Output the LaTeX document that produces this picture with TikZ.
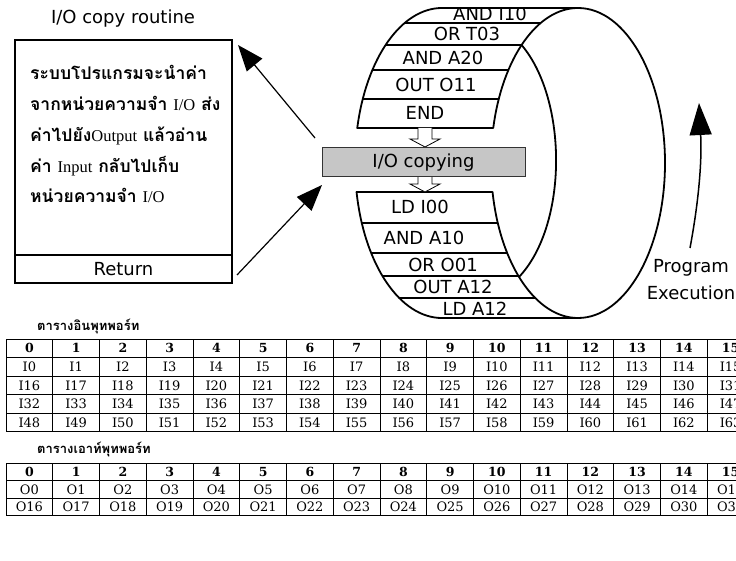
\documentclass[tikz,border=0pt]{standalone}
\usepackage{fontspec}
\setmainfont{DejaVu Sans}
\newfontfamily\thaifont[Script=Thai]{Loma}
\newfontfamily\latinserif{Liberation Serif}
\newfontfamily\tabfont{DejaVu Serif}
\usetikzlibrary{arrows.meta}

% Latin words set inside the Thai description
\newcommand\lat[1]{{\latinserif\mdseries\fontsize{16.5}{16.5}\selectfont #1}}

% the two visible pieces of the drum surface (between the left and right end ellipses)
\newcommand\upperband{(442,8) arc[start angle=270,end angle=193.05,x radius=87,y radius=155] -- (493.25,128) arc[start angle=193.05,end angle=270,x radius=87,y radius=155] -- cycle}
\newcommand\lowerband{(356.54,192) arc[start angle=169.22,end angle=90,x radius=87,y radius=155] -- (578,318) arc[start angle=90,end angle=169.22,x radius=87,y radius=155] -- cycle}

\begin{document}
\begin{tikzpicture}[x=1pt,y=-1pt,
  outline/.style={line width=1.8pt, line join=round},
  rowline/.style={line width=1.1pt},
  instr/.style={font=\fontsize{18}{18}\selectfont, inner sep=0pt, text height=13pt, text depth=0pt},
  plaintext/.style={font=\fontsize{18}{18}\selectfont, inner sep=0pt, text height=13pt, text depth=0pt},
  thai/.style={font=\thaifont\bfseries\fontsize{17.5}{17.5}\selectfont, inner sep=0pt, anchor=base west},
  pointer/.style={line width=1.2pt, -{Triangle[length=26pt,width=20pt]}},
  hollow/.style={line width=0.8pt, fill=white, line join=miter},
  tabline/.style={line width=1pt},
  hcell/.style={font=\tabfont\bfseries\fontsize{12.5}{12.5}\selectfont, inner sep=0pt, text height=9pt, text depth=0pt},
  cell/.style={font=\tabfont\fontsize{13}{13}\selectfont, inner sep=0pt, text height=9.5pt, text depth=0pt},
  tabtitle/.style={font=\thaifont\bfseries\fontsize{13}{13}\selectfont, inner sep=0pt, anchor=west},
]
\clip (0,0) rectangle (736,561);
\fill[white] (0,0) rectangle (736,561);

% ---------------- drum ----------------
% right end ellipse: outer arc and the inner edge
\draw[outline] (578,8) arc[start angle=270,end angle=450,x radius=87,y radius=155];
\draw[outline] (521.6,45) .. controls (568,100) and (568,225) .. (519,277);

% upper piece of the drum surface
\fill[white] \upperband;
\begin{scope}
  \clip \upperband;
  \foreach \yy in {23,45,70,99} \draw[rowline] (300,\yy) -- (620,\yy);
  \node[instr] (ins1) at (490,14.5) {AND I10};
  \node[instr] (ins2) at (467,34) {OR T03};
  \node[instr] (ins3) at (443,58) {AND A20};
  \node[instr] (ins4) at (436,85) {OUT O11};
  \node[instr] (ins5) at (425,113.5) {END};
\end{scope}
\draw[outline] \upperband;

% lower piece of the drum surface
\fill[white] \lowerband;
\begin{scope}
  \clip \lowerband;
  \foreach \yy in {223,253,276,298} \draw[rowline] (300,\yy) -- (620,\yy);
  \node[instr] (ins6) at (420,207.5) {LD I00};
  \node[instr] (ins7) at (424,238) {AND A10};
  \node[instr] (ins8) at (443,265) {OR O01};
  \node[instr] (ins9) at (453,287.5) {OUT A12};
  \node[instr] (ins10) at (475,309) {LD A12};
\end{scope}
\draw[outline] \lowerband;

% hollow flow arrows around the copy step
\draw[hollow] (418,128) -- (418,139) -- (410,139) -- (425,147) -- (440,139) -- (432,139) -- (432,128);
\draw[hollow] (418,176) -- (418,184) -- (410,184) -- (425,192) -- (440,184) -- (432,184) -- (432,176);

\node[draw=black!80, fill=gray!45, line width=0.8pt, minimum width=203pt, minimum height=29pt,
      inner sep=0pt, text height=13pt, text depth=0pt, font=\fontsize{18}{18}\selectfont] (copy) at (423.5,161.5) {I/O copying};

% ---------------- I/O copy routine ----------------
\node[plaintext] (title) at (123,17) {I/O copy routine};
\node[draw, line width=1.8pt, minimum width=217pt, minimum height=243pt, inner sep=0pt] (routine) at (123.5,161.5) {};
\draw[line width=1.8pt] ([yshift=29pt]routine.south west) -- ([yshift=29pt]routine.south east);
\node[plaintext] (ret) at ([yshift=14.5pt]routine.south) {Return};

\node[thai] (d1) at (30,80) {ระบบโปรแกรมจะนำค่า};
\node[thai] (d2) at (30,110.75) {จากหน่วยความจำ \lat{I/O} ส่ง};
\node[thai] (d3) at (30,141.5) {ค่าไปยัง\lat{Output} แล้วอ่าน};
\node[thai] (d4) at (30,172.25) {ค่า \lat{Input} กลับไปเก็บ};
\node[thai] (d5) at (30,203) {หน่วยความจำ \lat{I/O}};

% calls between the scan and the routine
\coordinate (callTail) at (315,138);
\coordinate (callTip) at (238,45);
\coordinate (backTail) at (237,275);
\coordinate (backTip) at (322,185);
\draw[pointer] (callTail) -- (callTip);
\draw[pointer] (backTail) -- (backTip);

% scan direction
\coordinate (execTail) at (690,248);
\coordinate (execTip) at (699,103);
\draw[line width=1.5pt, -{Triangle[length=32pt,width=22pt]}] (execTail) .. controls (699,200) and (702,160) .. (execTip);
\node[align=center, font=\fontsize{18}{27}\selectfont, inner sep=0pt] (exec) at (691,280) {Program\\Execution};

% ---------------- port tables ----------------
\def\tl{6}
\def\cw{46.75}

% input ports
\def\itop{339}
\def\rh{18.5}
\node[tabtitle] (intitle) at (37,326) {ตารางอินพุทพอร์ท};
\foreach \c in {0,...,16} \draw[tabline] ({\tl+\c*\cw},\itop) -- ({\tl+\c*\cw},{\itop+5*\rh});
\foreach \r in {0,...,5} \draw[tabline] (\tl,{\itop+\r*\rh}) -- ({\tl+16*\cw},{\itop+\r*\rh});
\foreach \c in {0,...,15} {
  \node[hcell] (ih-\c) at ({\tl+(\c+0.5)*\cw},{\itop+0.5*\rh}) {\c};
  \foreach \r in {1,...,4} {
    \pgfmathtruncatemacro\n{16*(\r-1)+\c}
    \node[cell] (in-\r-\c) at ({\tl+(\c+0.5)*\cw},{\itop+(\r+0.5)*\rh}) {I\n};
  }
}

% output ports
\def\otop{463}
\def\rh{17.5}
\node[tabtitle] (outtitle) at (37,449) {ตารางเอาท์พุทพอร์ท};
\foreach \c in {0,...,16} \draw[tabline] ({\tl+\c*\cw},\otop) -- ({\tl+\c*\cw},{\otop+3*\rh});
\foreach \r in {0,...,3} \draw[tabline] (\tl,{\otop+\r*\rh}) -- ({\tl+16*\cw},{\otop+\r*\rh});
\foreach \c in {0,...,15} {
  \node[hcell] (oh-\c) at ({\tl+(\c+0.5)*\cw},{\otop+0.5*\rh}) {\c};
  \foreach \r in {1,2} {
    \pgfmathtruncatemacro\n{16*(\r-1)+\c}
    \node[cell] (out-\r-\c) at ({\tl+(\c+0.5)*\cw},{\otop+(\r+0.5)*\rh}) {O\n};
  }
}
\end{tikzpicture}
\end{document}
